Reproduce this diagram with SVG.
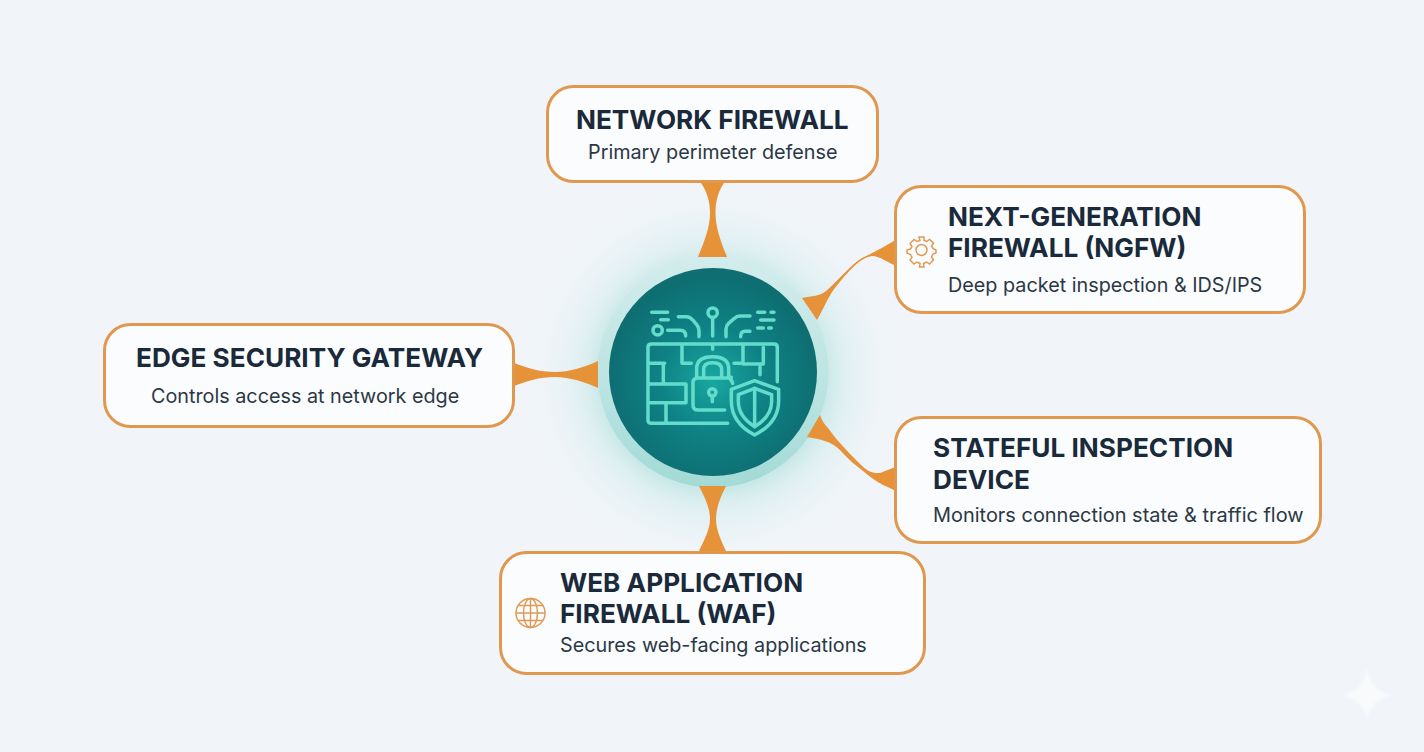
<svg xmlns="http://www.w3.org/2000/svg" width="1424" height="752" viewBox="0 0 1424 752">
<style>
.card{fill:#fafcfe;stroke:#e0984f;stroke-width:3}
.t{font-family:Inter,"Liberation Sans",sans-serif;font-weight:700;font-size:26.2px;fill:#1a2a3a}
.s{font-family:Inter,"Liberation Sans",sans-serif;font-weight:400;font-size:19.8px;fill:#2b3844}
.c{fill:#e69238}
.i{fill:none;stroke:#63dccb;stroke-width:10.500;stroke-linecap:round;stroke-linejoin:round}
.g{fill:none;stroke:#e09a55;stroke-width:1.5}
</style>
<defs>
<radialGradient id="halo" gradientUnits="userSpaceOnUse" cx="713" cy="376" r="185">
<stop offset="0.55" stop-color="#7fcfca" stop-opacity="0.5"/>
<stop offset="0.72" stop-color="#b5e2e0" stop-opacity="0.28"/>
<stop offset="1" stop-color="#dceff0" stop-opacity="0"/>
</radialGradient>
<linearGradient id="ring" x1="0" y1="0" x2="0" y2="1">
<stop offset="0" stop-color="#d3ecec"/>
<stop offset="0.6" stop-color="#b9e3e1"/>
<stop offset="1" stop-color="#a2dad6"/>
</linearGradient>
<radialGradient id="disc" gradientUnits="userSpaceOnUse" cx="713" cy="380" r="104">
<stop offset="0" stop-color="#18a8a0"/>
<stop offset="0.5" stop-color="#0f8285"/>
<stop offset="1" stop-color="#0e6e72"/>
</radialGradient>
<filter id="soft" x="-20%" y="-20%" width="140%" height="140%"><feGaussianBlur stdDeviation="1"/></filter>
</defs>
<rect width="1424" height="752" fill="#f1f5f9"/>
<path d="M1367 668C1370 684 1376 691 1392 695C1376 699 1370 706 1367 720C1364 706 1358 699 1342 695C1358 691 1364 684 1367 668Z" fill="#f8fafc" filter="url(#soft)"/>

<circle cx="713" cy="376" r="185" fill="url(#halo)"/>
<circle cx="713" cy="372" r="115.500" fill="url(#ring)"/>

<g id="connectors">
<path class="c" d="M699 180H726C718 191 715.500 201 715.500 213C715.500 228 721 242 727 257H698C704 242 710 228 710 213C710 201 707 191 699 180Z"/>
<path class="c" d="M699 486H726C720 498 716 508 716 519C716 530 721 540 726 551H699C704 540 710 530 710 519C710 508 705 498 699 486Z"/>
<path class="c" d="M512 362C526 368 540 372 555 372C570 372 585 367 598 361V388C585 382 570 377 555 377C540 377 526 381 512 387Z"/>
<path class="c" d="M897 239V266C888 263 880 256 872 256C860 257 845 275 832 292C826 302 822 311 817 320L802 298C812 296 820 296 826 291C838 281 850 265 862 258C875 252 887 245 897 239Z"/>
<path class="c" d="M820 415C822 421 825 425 828 428C832 433 836 439 840 443C846 450 852 456 857 461C862 466 866 470 871 472C874 473 877 473 880 473C886 471 892 468 898 466V492C892 489 888 487 883 485C877 482 872 478 868 475C863 471 858 467 853 463C848 459 844 454 840 450C837 447 834 445 830 443C826 441 822 440 818 439C814 438 811 438 807 437Z"/>
</g>

<g id="hub">
<circle cx="713" cy="372" r="104" fill="url(#disc)"/>
<g class="i" transform="translate(590 170) scale(.3333)">
<path d="M185 427H233M212 449H235M233 481H270Q287 481 287 498"/>
<circle cx="203" cy="481" r="14"/>
<path d="M265 440H290Q300 440 308 450L320 464Q327 472 327 482V500"/>
<circle cx="368" cy="428" r="14"/>
<path d="M368 443V498M408 500V478Q408 468 416 460L432 446Q440 438 450 438H480M452 500Q452 484 465 484H480"/>
<path d="M503 427H524M543 427H552M512 450H552M503 474H520M536 474H544"/>
<path d="M413 760H184Q174 760 174 750V532Q174 522 184 522H552Q562 522 562 532V635"/>
<path d="M276 526V580H304M224 580H175M220 585V640M175 642H288V698H178M228 700V760M368 525V538M459 525V580H432M459 582H520V532M510 590V614"/>
<path d="M320 622V596Q320 560 368 560Q416 560 416 596V622H424M341 620V598Q341 578 368 578Q395 578 395 598V620"/>
<path d="M404 720H325Q309 720 309 704V638Q309 624 325 624H416Q424 626 428 640"/>
<circle cx="367" cy="667" r="11"/>
<path d="M367 677V695"/>
<path d="M494 632L566 658V692Q566 758 494 795Q424 758 424 692V658Z"/>
<path d="M494 655L545 674V694Q545 740 494 770Q445 740 445 694V674Z"/>
<path d="M494 655V770"/>
</g>
</g>

<g id="node-network-firewall">
<rect class="card" x="547.500" y="86.500" width="330" height="95" rx="26"/>
<text class="t" x="576" y="129">NETWORK FIREWALL</text>
<text class="s" x="588" y="159">Primary perimeter defense</text>
</g>

<g id="node-ngfw">
<rect class="card" x="895.500" y="186.500" width="409" height="126" rx="26"/>
<g class="g">
<circle cx="921.500" cy="250" r="5.500"/>
<path d="M919 237L920 240.500L917 241.500L914 239.500L910 243.500L912 246.500L910.500 249L907 250V253L910.500 254.500L912 257.500L910 260L914 264L917 262L920 263.500L919.500 267H924L923.500 263.500L926.500 262L929.500 264L933.500 260L931.500 257L933 254L936 253V250L933 248.500L931.500 246L933.500 243L929.500 239.500L926.500 241.500L924 240.500L924 237Z"/>
</g>
<text class="t" x="948" y="226">NEXT-GENERATION</text>
<text class="t" x="948" y="257">FIREWALL (NGFW)</text>
<text class="s" x="948" y="292">Deep packet inspection &amp; IDS/IPS</text>
</g>

<g id="node-edge-gateway">
<rect class="card" x="104.500" y="324.500" width="409" height="102" rx="26"/>
<text class="t" x="136" y="367">EDGE SECURITY GATEWAY</text>
<text class="s" x="151" y="403">Controls access at network edge</text>
</g>

<g id="node-stateful">
<rect class="card" x="895.500" y="417.500" width="425" height="125" rx="26"/>
<text class="t" x="933" y="457">STATEFUL INSPECTION</text>
<text class="t" x="933" y="489">DEVICE</text>
<text class="s" x="933" y="522" style="font-size:19.95px">Monitors connection state &amp; traffic flow</text>
</g>

<g id="node-waf">
<rect class="card" x="500.500" y="552.500" width="424" height="121" rx="26"/>
<g class="g">
<circle cx="530.500" cy="613" r="14.500"/>
<ellipse cx="530.500" cy="613" rx="7" ry="14.500"/>
<path d="M530.500 598.500V627.500M516 613H545M518 605.500H543M518 620.500H543"/>
</g>
<text class="t" x="560" y="592">WEB APPLICATION</text>
<text class="t" x="560" y="623">FIREWALL (WAF)</text>
<text class="s" x="560" y="652">Secures web-facing applications</text>
</g>
</svg>
